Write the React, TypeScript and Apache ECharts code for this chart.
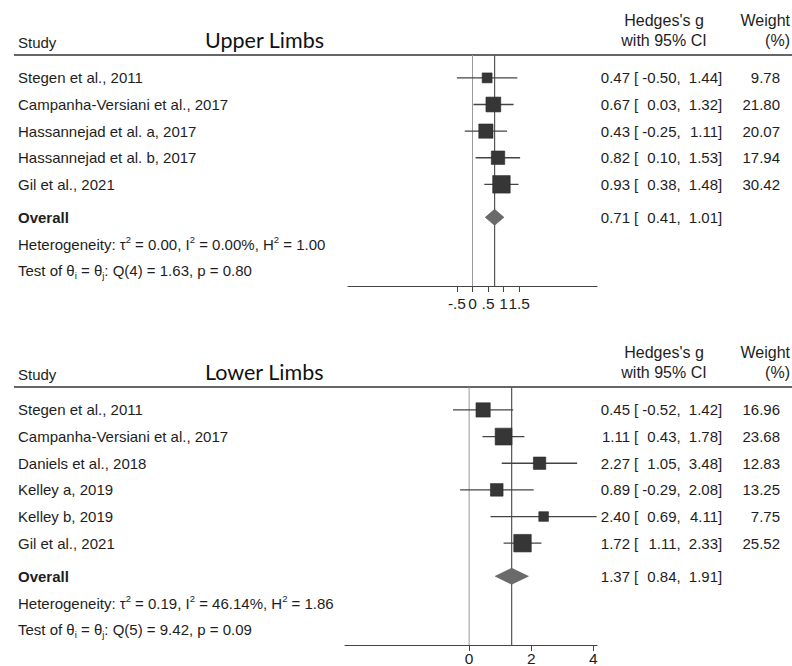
import React, { useEffect, useRef } from "react";
import * as echarts from "echarts";

// ---------- Data ----------
const upperStudies = [
  "Stegen et al., 2011",
  "Campanha-Versiani et al., 2017",
  "Hassannejad et al. a, 2017",
  "Hassannejad et al. b, 2017",
  "Gil et al., 2021",
];
const upperG = [0.47, 0.67, 0.43, 0.82, 0.93];
const upperLo = [-0.5, 0.03, -0.25, 0.1, 0.38];
const upperHi = [1.44, 1.32, 1.11, 1.53, 1.48];
const upperW = [9.78, 21.8, 20.07, 17.94, 30.42];
const upperOverall = [0.71, 0.41, 1.01];
const upperHet = ["0.00", "0.00%", "1.00"];
const upperTest = ["4", "1.63", "0.80"];
const upperTicks = [-0.5, 0, 0.5, 1, 1.5];
const upperTickLabels = ["-.5", "0", ".5", "1", "1.5"];

const lowerStudies = [
  "Stegen et al., 2011",
  "Campanha-Versiani et al., 2017",
  "Daniels et al., 2018",
  "Kelley a, 2019",
  "Kelley b, 2019",
  "Gil et al., 2021",
];
const lowerG = [0.45, 1.11, 2.27, 0.89, 2.4, 1.72];
const lowerLo = [-0.52, 0.43, 1.05, -0.29, 0.69, 1.11];
const lowerHi = [1.42, 1.78, 3.48, 2.08, 4.11, 2.33];
const lowerW = [16.96, 23.68, 12.83, 13.25, 7.75, 25.52];
const lowerOverall = [1.37, 0.84, 1.91];
const lowerHet = ["0.19", "46.14%", "1.86"];
const lowerTest = ["5", "9.42", "0.09"];
const lowerTicks = [0, 2, 4];
const lowerTickLabels = ["0", "2", "4"];

// ---------- Styling ----------
const FONT = "'Liberation Sans', Arial, Helvetica, sans-serif";
const TITLE_FONT = "Lato, 'Open Sans', sans-serif";
const FS = 15;
const HFS = 16;
const TXT = "#1e1e1e";
const MAX_SIDE = 17.5;

const txt = (x: number, y: number, text: string, align = "left", extra: any = {}) => ({
  type: "text",
  x,
  y,
  silent: true,
  style: {
    text,
    x: 0,
    y: 0,
    align,
    verticalAlign: "middle",
    fill: TXT,
    fontSize: FS,
    fontFamily: FONT,
    ...extra,
  },
});

const estTexts = (g: number, lo: number, hi: number, y: number) => [
  txt(630, y, g.toFixed(2), "right"),
  txt(634, y, "["),
  txt(676.5, y, lo.toFixed(2), "right"),
  txt(676.5, y, ","),
  txt(718, y, hi.toFixed(2), "right"),
  txt(718, y, "]"),
];

function panelSeries(
  gi: number,
  studies: string[],
  g: number[],
  lo: number[],
  hi: number[],
  w: number[],
  overall: number[],
  het: string[],
  test: string[]
) {
  const n = studies.length;
  const maxW = Math.max(...w);
  const studyData = studies.map((s, i) => [g[i], lo[i], hi[i], w[i], i + 1]);
  const overallRow = n + 1.24;
  const hetRow = n + 2.26;
  const testRow = n + 3.25;

  const refs = {
    type: "custom",
    xAxisIndex: gi,
    yAxisIndex: gi,
    z: 1,
    silent: true,
    data: [[0, 0], [overall[0], 1]],
    encode: { x: 0 },
    renderItem: (params: any, api: any) => {
      const cs = params.coordSys;
      const x = api.coord([api.value(0), 1])[0];
      const isZero = api.value(1) === 0;
      return {
        type: "line",
        shape: { x1: x, y1: cs.y, x2: x, y2: cs.y + cs.height },
        style: { stroke: isZero ? "#9a9a9a" : "#555", lineWidth: isZero ? 1 : 1.2 },
      };
    },
  };

  const studySeries = {
    type: "custom",
    xAxisIndex: gi,
    yAxisIndex: gi,
    z: 2,
    silent: true,
    data: studyData,
    encode: { x: [0, 1, 2], y: 4 },
    renderItem: (params: any, api: any) => {
      const i = params.dataIndex;
      const row = api.value(4);
      const pLo = api.coord([api.value(1), row]);
      const pHi = api.coord([api.value(2), row]);
      const pG = api.coord([api.value(0), row]);
      const y = pG[1];
      const side = MAX_SIDE * Math.sqrt(api.value(3) / maxW);
      return {
        type: "group",
        children: [
          {
            type: "line",
            shape: { x1: pLo[0], y1: y, x2: pHi[0], y2: y },
            style: { stroke: "#444", lineWidth: 1.3 },
          },
          {
            type: "rect",
            shape: { x: pG[0] - side / 2, y: y - side / 2, width: side, height: side },
            style: { fill: "#363636", stroke: "#2a2a2a", lineWidth: 0.6 },
          },
          txt(18, y, studies[i]),
          ...estTexts(api.value(0), api.value(1), api.value(2), y),
          txt(780, y, w[i].toFixed(2), "right"),
        ],
      };
    },
  };

  const overallSeries = {
    type: "custom",
    xAxisIndex: gi,
    yAxisIndex: gi,
    z: 3,
    silent: true,
    data: [[overall[0], overall[1], overall[2], overallRow]],
    encode: { x: [0, 1, 2], y: 3 },
    renderItem: (params: any, api: any) => {
      const row = api.value(3);
      const pG = api.coord([api.value(0), row]);
      const pLo = api.coord([api.value(1), row]);
      const pHi = api.coord([api.value(2), row]);
      const y = pG[1];
      const h = 8;
      return {
        type: "group",
        children: [
          {
            type: "polygon",
            shape: {
              points: [
                [pLo[0], y],
                [pG[0], y - h],
                [pHi[0], y],
                [pG[0], y + h],
              ],
            },
            style: { fill: "#6a6a6a", stroke: "#5a5a5a", lineWidth: 0.6 },
          },
          txt(18, y, "Overall", "left", { fontWeight: "bold" }),
          ...estTexts(api.value(0), api.value(1), api.value(2), y),
        ],
      };
    },
  };

  const rich = {
    sup: { fontSize: 9.5, verticalAlign: "top", lineHeight: 19, fill: TXT, fontFamily: FONT },
    sub: { fontSize: 9.5, verticalAlign: "bottom", lineHeight: 19, fill: TXT, fontFamily: FONT },
  };

  const statsSeries = {
    type: "custom",
    xAxisIndex: gi,
    yAxisIndex: gi,
    z: 3,
    silent: true,
    data: [[0, hetRow, 0], [0, testRow, 1]],
    encode: { x: 0, y: 1 },
    renderItem: (params: any, api: any) => {
      const y = api.coord([0, api.value(1)])[1];
      const kind = api.value(2);
      const text =
        kind === 0
          ? `Heterogeneity: τ{sup|2} = ${het[0]}, I{sup|2} = ${het[1]}, H{sup|2} = ${het[2]}`
          : `Test of θ{sub|i} = θ{sub|j}: Q(${test[0]}) = ${test[1]}, p = ${test[2]}`;
      return txt(18, y, text, "left", { rich, lineHeight: 19 });
    },
  };

  return [refs, studySeries, overallSeries, statsSeries];
}

function xAxisFor(gi: number, min: number, max: number, ticks: number[], labels: string[], margin: number) {
  return {
    gridIndex: gi,
    type: "value",
    min,
    max,
    position: "bottom",
    axisLine: { show: true, onZero: false, lineStyle: { color: "#444", width: 1.2 } },
    axisTick: { show: true, customValues: ticks, length: 6, lineStyle: { color: "#444", width: 1 } },
    axisLabel: {
      show: true,
      customValues: ticks,
      margin,
      hideOverlap: false,
      fontSize: 15.5,
      fontFamily: FONT,
      color: TXT,
      formatter: (v: number) => {
        const k = ticks.findIndex((t) => Math.abs(t - v) < 1e-9);
        return k >= 0 ? labels[k] : "";
      },
    },
    splitLine: { show: false },
  };
}

function headerGraphics(lineY: number, title: string) {
  const base = { fill: TXT, fontSize: HFS, fontFamily: FONT };
  return [
    { type: "text", x: 18, y: lineY - 13, style: { ...base, fontSize: FS, text: "Study", verticalAlign: "middle" } },
    {
      type: "text",
      x: 205,
      y: lineY - 15,
      style: { text: title, fill: "#111", fontSize: 21.5, fontFamily: TITLE_FONT, verticalAlign: "middle" },
    },
    { type: "text", x: 664, y: lineY - 34.5, style: { ...base, text: "Hedges's g", align: "center", verticalAlign: "middle" } },
    { type: "text", x: 664, y: lineY - 15, style: { ...base, text: "with 95% CI", align: "center", verticalAlign: "middle" } },
    { type: "text", x: 790, y: lineY - 34.5, style: { ...base, text: "Weight", align: "right", verticalAlign: "middle" } },
    { type: "text", x: 790, y: lineY - 15, style: { ...base, text: "(%)", align: "right", verticalAlign: "middle" } },
    {
      type: "line",
      shape: { x1: 14, y1: lineY, x2: 792, y2: lineY },
      style: { stroke: "#333", lineWidth: 1.6 },
    },
  ];
}

export default function App() {
  const ref = useRef<HTMLDivElement>(null);
  useEffect(() => {
    if (!ref.current) return;
    const chart = echarts.init(ref.current, null, { renderer: "svg" });
    const upTop = 55;
    const loTop = 387;
    const option: any = {
      animation: false,
      backgroundColor: "#ffffff",
      grid: [
        { left: 348, width: 249, top: upTop, height: 231 },
        { left: 345, width: 252, top: loTop, height: 258 },
      ],
      xAxis: [
        xAxisFor(0, -4, 4, upperTicks, upperTickLabels, 9),
        xAxisFor(1, -4, 4.12, lowerTicks, lowerTickLabels, 5),
      ],
      yAxis: [
        { gridIndex: 0, type: "value", min: 0.14, max: upperStudies.length + 3.82, inverse: true, show: false },
        { gridIndex: 1, type: "value", min: 0.14, max: lowerStudies.length + 3.82, inverse: true, show: false },
      ],
      graphic: [...headerGraphics(upTop, "Upper Limbs"), ...headerGraphics(loTop, "Lower Limbs")],
      series: [
        ...panelSeries(0, upperStudies, upperG, upperLo, upperHi, upperW, upperOverall, upperHet, upperTest),
        ...panelSeries(1, lowerStudies, lowerG, lowerLo, lowerHi, lowerW, lowerOverall, lowerHet, lowerTest),
      ],
    };
    chart.setOption(option);
    return () => chart.dispose();
  }, []);
  return (
    <div
      ref={ref}
      style={{ position: "absolute", left: 0, top: 0, width: 792, height: 666, background: "#fff" }}
    />
  );
}
